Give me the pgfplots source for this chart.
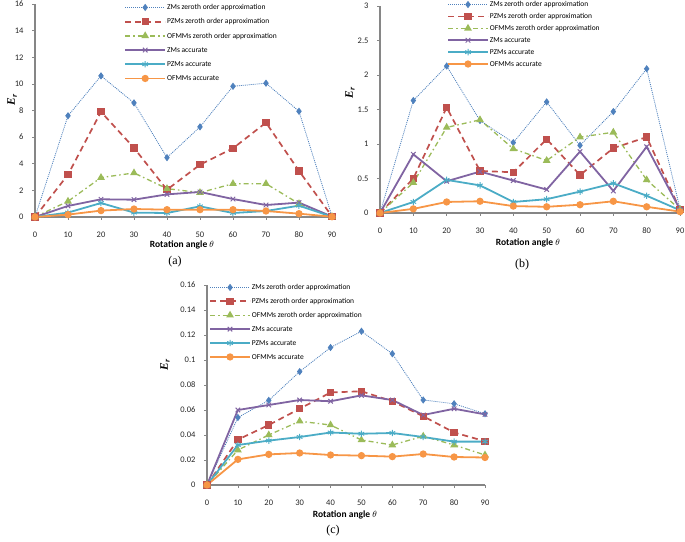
\documentclass[border=0pt]{standalone}
\usepackage{pgfplots}
\pgfplotsset{compat=1.18}
\usepackage{pgfplotstable}
\usepackage{fontspec}
\setmainfont{Liberation Serif}
\setsansfont{Carlito}
\definecolor{cZ}{HTML}{4F81BD}
\definecolor{cP}{HTML}{C0504D}
\definecolor{cO}{HTML}{9BBB59}
\definecolor{cZA}{HTML}{8064A2}
\definecolor{cPA}{HTML}{4BACC6}
\definecolor{cOA}{HTML}{F79646}
\definecolor{axgray}{HTML}{868686}

\pgfplotstableread{
x ZZ PZ OZ ZA PA OA
0 0 0 0 0 0 0
10 7.6 3.18 1.18 0.83 0.33 0.18
20 10.6 7.9 2.96 1.33 1.05 0.48
30 8.57 5.19 3.31 1.30 0.33 0.60
40 4.46 2.05 2.13 1.70 0.30 0.55
50 6.77 3.93 1.83 1.88 0.80 0.55
60 9.82 5.16 2.50 1.35 0.30 0.55
70 10.05 7.09 2.50 0.90 0.45 0.45
80 7.94 3.46 1.00 1.08 0.85 0.25
90 0.05 0.05 0.02 0.03 0.02 0.02
}\dataA

\pgfplotstableread{
x ZZ PZ OZ ZA PA OA
0 0 0 0 0 0 0
10 1.63 0.50 0.44 0.85 0.16 0.06
20 2.13 1.53 1.24 0.46 0.48 0.16
30 1.34 0.61 1.35 0.60 0.40 0.17
40 1.02 0.59 0.93 0.47 0.16 0.10
50 1.61 1.07 0.76 0.34 0.20 0.09
60 0.98 0.55 1.10 0.89 0.31 0.12
70 1.47 0.94 1.17 0.32 0.43 0.17
80 2.09 1.10 0.48 0.96 0.25 0.09
90 0.06 0.05 0.05 0.05 0.04 0.02
}\dataB

\pgfplotstableread{
x ZZ PZ OZ ZA PA OA
0 0 0 0 0 0 0
10 0.054 0.0363 0.028 0.060 0.032 0.0205
20 0.0677 0.048 0.040 0.064 0.0355 0.0245
30 0.0907 0.061 0.051 0.068 0.0384 0.0256
40 0.110 0.074 0.048 0.067 0.042 0.024
50 0.123 0.075 0.036 0.0717 0.041 0.0235
60 0.105 0.067 0.032 0.068 0.0416 0.0227
70 0.068 0.055 0.039 0.056 0.0384 0.0248
80 0.065 0.042 0.032 0.061 0.0347 0.0224
90 0.057 0.035 0.024 0.0565 0.0347 0.022
}\dataC

\pgfplotsset{
  myaxis/.style={
    scale only axis, clip=false, enlargelimits=false,
    xmin=0, xmax=90, ymin=0, xtick={0,10,...,90},
    axis x line=bottom, axis y line=left,
    axis line style={-, draw=axgray, line width=1.2pt},
    tick style={draw=axgray, line width=0.6pt},
    tick align=outside, major tick length=3pt,
    ticklabel style={font=\sffamily\fontsize{8.5}{10}\selectfont, text=black!85},
    xticklabel style={yshift=-8pt},
    yticklabel style={xshift=-5pt},
    /pgf/number format/assume math mode=true,
    scaled y ticks=false,
    xlabel={\sffamily\bfseries\fontsize{9.5}{11}\selectfont Rotation angle $\theta$},
    ylabel={\fontsize{11.5}{12}\selectfont\bfseries\itshape E\textsubscript{r}},
    xlabel style={anchor=center},
    ylabel style={anchor=center},
    legend cell align=left,
    legend style={draw=none, fill=none, anchor=north west, inner sep=0pt,
      font=\sffamily\fontsize{7.5}{8}\selectfont,
      nodes={inner sep=1pt, text height=6pt, text depth=1.5pt}},
    legend image code/.code={\draw[mark repeat=2,mark phase=2,##1] plot coordinates {(0pt,0pt) (20pt,0pt) (40pt,0pt)};},
  },
  s1/.style={color=cZ, dash pattern=on 1pt off 1pt, line width=0.8pt, mark=diamond*, mark size=3pt, mark options={solid}},
  s2/.style={color=cP, dash pattern=on 6pt off 4pt, line width=1.7pt, mark=square*, mark size=2.8pt, mark options={solid}},
  s3/.style={color=cO, dash pattern=on 5pt off 3pt on 1.5pt off 3pt, line width=1.3pt, mark=triangle*, mark size=3.2pt, mark options={solid}},
  s4/.style={color=cZA, line width=1.8pt, mark=x, mark size=3.2pt, mark options={line width=1pt}},
  s5/.style={color=cPA, line width=1.8pt, mark=asterisk, mark size=3.2pt, mark options={line width=1pt}},
  s6/.style={color=cOA, line width=1.8pt, mark=*, mark size=2.7pt},
}

\newcommand{\allseries}[1]{%
  \addplot[s1] table[x=x,y=ZZ] {#1};
  \addplot[s2] table[x=x,y=PZ] {#1};
  \addplot[s3] table[x=x,y=OZ] {#1};
  \addplot[s4] table[x=x,y=ZA] {#1};
  \addplot[s5] table[x=x,y=PA] {#1};
  \addplot[s6] table[x=x,y=OA] {#1};
  \legend{ZMs zeroth order approximation, PZMs zeroth order approximation, OFMMs zeroth order approximation, ZMs accurate, PZMs accurate, OFMMs accurate}
}

\begin{document}
\begin{tikzpicture}[x=1pt,y=1pt]
\useasboundingbox (0,0) rectangle (685,541);
% (a)
\begin{axis}[myaxis, at={(35pt,324pt)}, anchor=south west, width=297pt, height=213pt,
  ymax=16, ytick={0,2,...,16},
  xlabel style={at={(axis description cs:0.495,-0.131)}},
  ylabel style={at={(axis description cs:-0.077,0.55)}},
  legend style={at={(0.30,1.007)}, row sep=4.7pt}]
\allseries{\dataA}
\end{axis}
% (b)
\begin{axis}[myaxis, at={(380pt,328pt)}, anchor=south west, width=300pt, height=207pt,
  ymax=3, ytick={0,0.5,...,3},
  yticklabel style={/pgf/number format/fixed, /pgf/number format/precision=1},
  xlabel style={at={(axis description cs:0.493,-0.145)}},
  ylabel style={at={(axis description cs:-0.1,0.58)}},
  legend style={at={(0.223,1.031)}, row sep=2.4pt}]
\allseries{\dataB}
\end{axis}
% (c)
\begin{axis}[myaxis, at={(207pt,56pt)}, anchor=south west, width=278pt, height=200pt,
  ymax=0.16, ytick={0,0.02,...,0.161},
  yticklabel style={/pgf/number format/fixed, /pgf/number format/precision=2},
  xlabel style={at={(axis description cs:0.496,-0.15)}},
  ylabel style={at={(axis description cs:-0.151,0.6)}},
  legend style={at={(0.007,1.0125)}, row sep=4.4pt}]
\allseries{\dataC}
\end{axis}
\node[font=\fontsize{12}{14}\selectfont] at (175,279) {(a)};
\node[font=\fontsize{12}{14}\selectfont] at (522,276) {(b)};
\node[font=\fontsize{12}{14}\selectfont] at (333,10) {(c)};
\end{tikzpicture}
\end{document}
